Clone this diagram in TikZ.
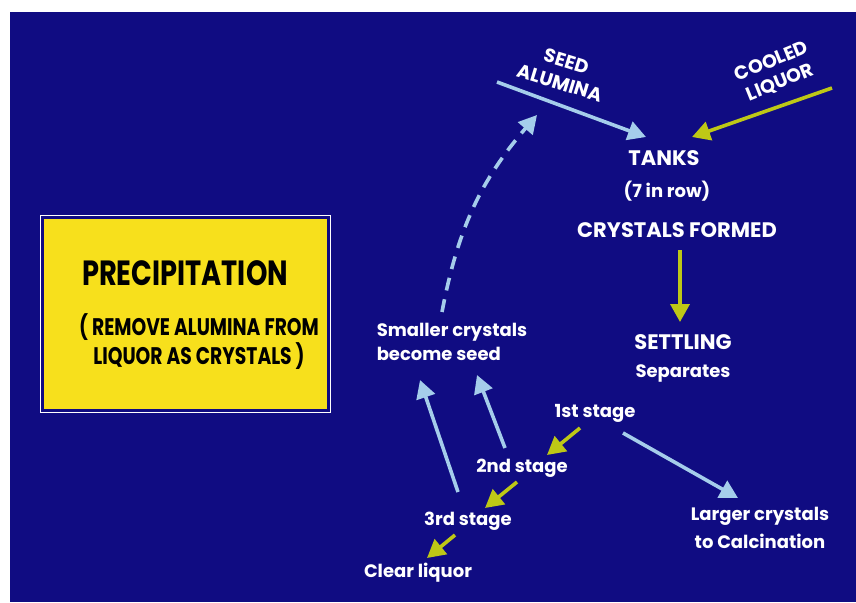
\documentclass[tikz,border=0pt]{standalone}
\usepackage{fontspec}
\setmainfont{Poppins}
\newfontfamily\condfont{Poppins}[FakeStretch=0.78]
\usetikzlibrary{arrows.meta,positioning}
\definecolor{slideblue}{RGB}{16,12,130}
\definecolor{boxyellow}{RGB}{247,224,28}
\definecolor{paleblue}{RGB}{165,205,235}
\definecolor{limeyellow}{RGB}{190,200,22}
\tikzstyle{lbl}=[text=white, inner sep=0pt, align=center, font=\bfseries\fontsize{18}{24}\selectfont]
\tikzstyle{heading}=[lbl, font=\bfseries\fontsize{21}{24}\selectfont]
\tikzstyle{tilted}=[lbl, font=\bfseries\fontsize{19}{23}\selectfont]
\tikzstyle{yellowbox}=[rectangle, fill=boxyellow, minimum width=283, minimum height=190, inner sep=0pt]
\tikzstyle{boxtext}=[text=black, inner sep=0pt, align=center, font=\condfont\bfseries\fontsize{24}{29}\selectfont]
\tikzstyle{seedarrow}=[draw=paleblue, line width=3.6pt, -{Triangle[length=18pt,width=19pt]}]
\tikzstyle{liquorarrow}=[seedarrow, draw=limeyellow]
\begin{document}
\begin{tikzpicture}[x=1pt, y=-1pt]
\useasboundingbox (0,0) rectangle (856,602);
\fill[white] (0,0) rectangle (856,602);
\fill[slideblue] (10,12) rectangle (856,602);
\node (precip) [yellowbox] at (185.5,314) {};
\draw[white, line width=1.3pt] ([shift={(-3,-3)}]precip.north west) rectangle ([shift={(3,3)}]precip.south east);
\node (title) [boxtext, font=\condfont\bfseries\fontsize{35}{35}\selectfont] at (185,273) {PRECIPITATION};
\node (remove) [boxtext] at (199,342) {( REMOVE ALUMINA FROM\\LIQUOR AS CRYSTALS )};
\node (seed) [tilted, rotate=-17] at (563,72) {SEED\\ALUMINA};
\node (cooled) [tilted, rotate=22] at (776,72) {COOLED\\LIQUOR};
\node (tanks) [heading] at (664,158) {TANKS};
\node (inrow) [lbl] at (667,191) {(7 in row)};
\node (formed) [heading] at (677,230) {CRYSTALS FORMED};
\node (settling) [heading] at (683,342) {SETTLING};
\node (separates) [lbl] at (683,373) {Separates};
\node (first) [lbl] at (595,413) {1st stage};
\node (second) [lbl] at (522,468) {2nd stage};
\node (third) [lbl] at (468,521) {3rd stage};
\node (clear) [lbl] at (418,573) {Clear liquor};
\node (smaller) [lbl, align=left] at (452,342) {Smaller crystals\\become seed};
\node (larger) [lbl, font=\bfseries\fontsize{18}{28}\selectfont] at (760,528) {Larger crystals\\to Calcination};
\coordinate (seedtail) at (497,82);
\coordinate (cooledtail) at (832,88);
\draw[seedarrow] (seedtail) -- ([shift={(-18,-21)}]tanks.center);
\draw[liquorarrow] (cooledtail) -- ([shift={(28,-21)}]tanks.center);
\draw[liquorarrow] ([shift={(3,20)}]formed.center) -- ([shift={(-3,-20)}]settling.center);
\draw[liquorarrow] ([shift={(-15,15)}]first.center) -- ([shift={(25,-13)}]second.center);
\draw[liquorarrow] ([shift={(-5,14)}]second.center) -- ([shift={(17,-13)}]third.center);
\draw[liquorarrow] ([shift={(-13,14)}]third.center) -- ([shift={(9,-15)}]clear.center);
\draw[seedarrow] ([shift={(28,20)}]first.center) -- ([shift={(-22,-30)}]larger.center);
\draw[seedarrow] ([shift={(-17,-20)}]second.center) -- ([shift={(25,33)}]smaller.center);
\draw[seedarrow] ([shift={(-10,-29)}]third.center) -- ([shift={(-32,38)}]smaller.center);
\draw[seedarrow, dash pattern=on 13pt off 9pt] ([shift={(-10,-30)}]smaller.center) to[bend left=15] ([shift={(40,33)}]seedtail);
\end{tikzpicture}
\end{document}
